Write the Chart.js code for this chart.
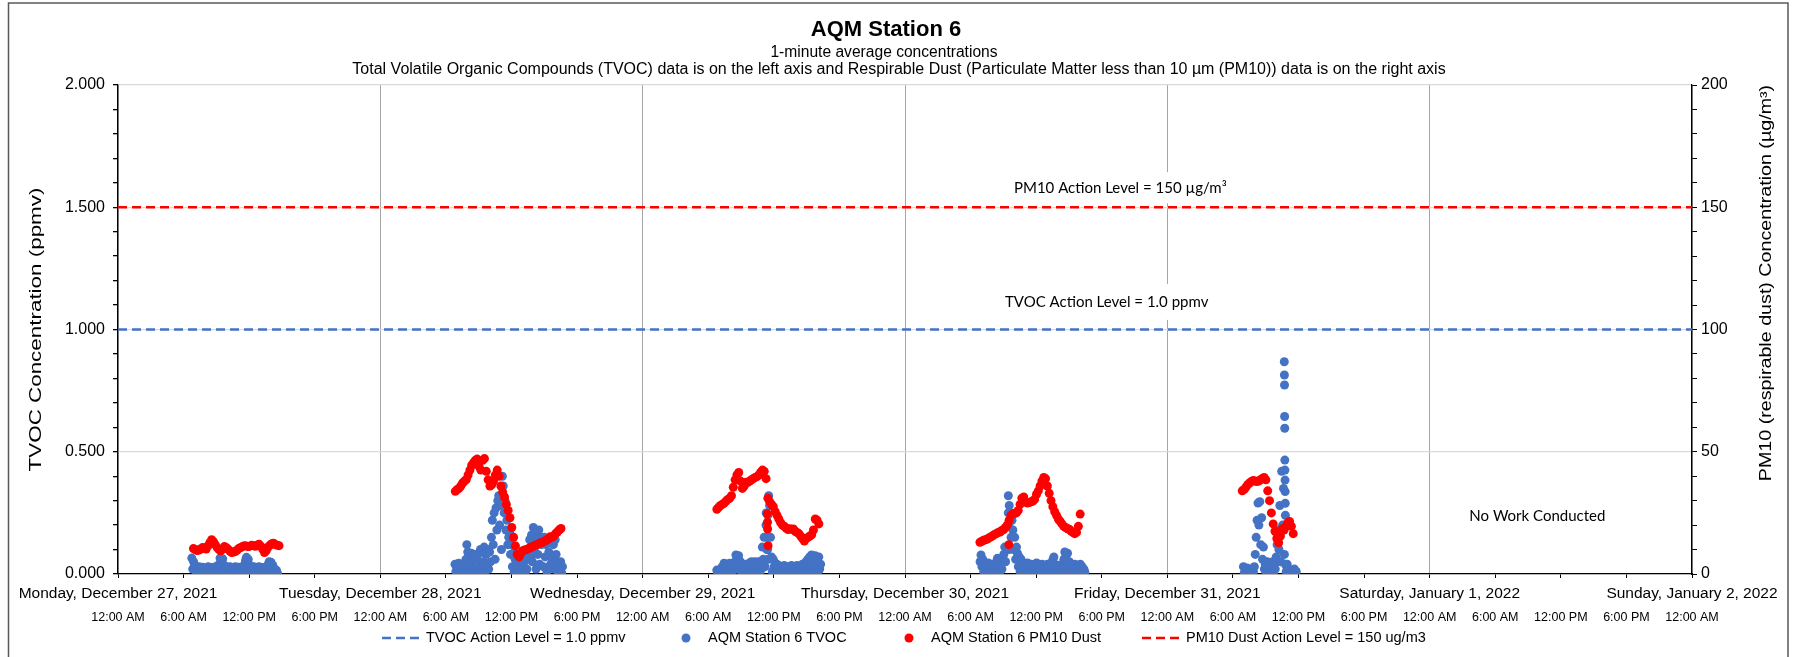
<!DOCTYPE html>
<html>
<head>
<meta charset="utf-8">
<script src="https://cdn.jsdelivr.net/npm/chart.js@4.4.1/dist/chart.umd.min.js"></script>
<style>
html,body{margin:0;padding:0;background:#fff;}
canvas{display:block;}
</style>
</head>
<body>
<canvas id="c" width="1793" height="657"></canvas>
<script>
// ---------------- DATA ----------------
// x values are hours since Monday, December 27, 2021 12:00 AM
const dayLabels = ['Monday, December 27, 2021','Tuesday, December 28, 2021','Wednesday, December 29, 2021','Thursday, December 30, 2021','Friday, December 31, 2021','Saturday, January 1, 2022','Sunday, January 2, 2022'];
const timeLabels = ['12:00 AM','6:00 AM','12:00 PM','6:00 PM'];
const tvocActionLevel = 1.0;   // ppmv
const pm10ActionLevel = 150;   // ug/m3
const TVOC_STEP = 1/12;        // TVOC readings shown every 5 minutes
const PM_STEP = 1/6;           // PM10 readings shown every 10 minutes

const tvocMonStart = 6.75;
const tvocMon = [0.065,0.02,0.05,0.035,0.03,0.005,0.025,0.012,0.03,0.004,0.02,0.01,
 0.028,0.006,0.018,0.003,0.025,0.01,0.03,0.004,0.015,0.008,0.027,0.002,
 0.02,0.01,0.03,0.004,0.025,0.012,0.04,0.065,0.05,0.03,0.062,0.015,
 0.035,0.005,0.028,0.01,0.02,0.003,0.03,0.012,0.025,0.005,0.018,0.008,
 0.03,0.004,0.022,0.012,0.028,0.006,0.02,0.002,0.026,0.01,0.04,0.055,
 0.068,0.03,0.06,0.015,0.035,0.005,0.025,0.01,0.03,0.004,0.02,0.012,
 0.028,0.006,0.03,0.01,0.022,0.003,0.027,0.012,0.018,0.005,0.03,0.008,
 0.04,0.05,0.025,0.048,0.01,0.035,0.005,0.02,0.008,0.015,0.004];
const pm10MonStart = 6.9;
const pm10Mon = [10.4,10.0,9.6,9.8,10.2,10.8,10.6,10.2,11.5,12.8,14.0,13.2,12.0,10.8,10.0,9.5,10.2,11.2,10.8,10.2,9.4,8.8,9.0,9.2,9.8,10.5,10.8,11.2,11.6,11.5,11.2,11.4,11.8,11.6,11.3,11.8,12.2,11.4,10.2,8.8,9.6,11.0,11.8,12.4,12.6,12.0,11.8,11.6];

const tvocTueStart = 30.83;
const tvocTue = [0.04,0.01,0.03,0.005,0.044,0.02,0.035,0.008,0.04,0.015,0.03,0.005,
 0.06,0.12,0.09,0.04,0.07,0.01,0.085,0.03,0.06,0.005,0.08,0.02,
 0.07,0.01,0.085,0.04,0.1,0.02,0.09,0.05,0.11,0.01,0.08,0.03,
 0.1,0.02,0.09,0.05,0.15,0.22,0.12,0.25,0.06,0.27,0.18,0.3,
 0.32,0.2,0.28,0.1,0.4,0.36,0.25,0.3,0.18,0.22,0.12,0.15,
 0.17,0.08,0.12,0.03,0.085,0.01,0.06,0.04,0.08,0.005,0.05,0.02,
 0.07,0.01,0.085,0.03,0.05,0.005,0.08,0.02,0.06,0.1,0.14,0.07,
 0.16,0.05,0.19,0.1,0.17,0.02,0.14,0.08,0.18,0.04,0.15,0.12,
 0.13,0.03,0.15,0.07,0.12,0.01,0.14,0.09,0.13,0.04,0.15,0.06,
 0.12,0.02,0.14,0.08,0.05,0.01,0.045,0.02,0.05,0.005,0.03];
const pm10TueStart = 30.86;
const pm10Tue = [33.8,34.5,35.0,36.0,37.2,38.0,38.6,40.5,42.5,44.5,45.5,46.5,47.0,44.0,42.5,46.5,47.2,42.0,38.5,36.0,36.5,38.0,40.5,42.5,40.0,36.0,33.5,31.5,28.5,26.0,23.0,19.0,15.0,11.5,8.0,7.0,8.5,9.5,9.8,10.0,10.3,10.8,11.0,11.5,11.8,12.0,12.5,12.8,13.0,13.5,13.8,14.3,15.2,15.0,15.5,16.5,17.2,18.0,18.6];

const tvocWedStart = 54.78;
const tvocWed = [0.016,0.005,0.012,0.003,0.02,0.01,0.03,0.005,0.044,0.02,0.04,0.01,
 0.035,0.005,0.044,0.015,0.03,0.008,0.04,0.02,0.05,0.078,0.06,0.03,
 0.075,0.02,0.05,0.01,0.035,0.005,0.03,0.015,0.04,0.003,0.035,0.01,
 0.045,0.015,0.05,0.005,0.04,0.02,0.05,0.01,0.045,0.025,0.05,0.005,
 0.05,0.02,0.11,0.06,0.15,0.03,0.2,0.1,0.24,0.32,0.28,0.15,
 0.07,0.01,0.06,0.03,0.045,0.005,0.04,0.015,0.035,0.005,0.03,0.01,
 0.025,0.005,0.035,0.012,0.02,0.003,0.03,0.01,0.025,0.004,0.035,0.015,
 0.03,0.005,0.02,0.01,0.035,0.003,0.025,0.012,0.03,0.006,0.04,0.015,
 0.035,0.005,0.05,0.02,0.06,0.01,0.07,0.03,0.078,0.04,0.07,0.015,
 0.075,0.03,0.06,0.01,0.07,0.02,0.04];
const pm10WedStart = 54.79;
const pm10Wed = [26.5,27.3,28.0,28.5,29.0,29.8,30.5,31.0,32.0,35.5,38.5,40.5,41.5,38.0,35.0,36.0,37.5,37.5,38.0,38.5,39.0,39.5,39.8,40.5,41.5,42.5,42.0,39.0,31.0,29.5,28.5,27.5,25.5,24.0,22.5,21.0,20.0,19.5,18.8,18.2,18.5,18.3,18.4,17.5,17.0,16.5,15.5,14.5,13.5,14.5,15.0,15.5,16.0,18.0,22.5,22.0,20.5];

const tvocThuStart = 78.87;
const tvocThu = [0.05,0.078,0.03,0.06,0.01,0.04,0.005,0.03,0.012,0.045,0.005,0.035,
 0.015,0.04,0.003,0.03,0.01,0.045,0.02,0.064,0.03,0.055,0.01,0.06,
 0.02,0.064,0.08,0.11,0.05,0.1,0.2,0.32,0.28,0.25,0.15,0.22,
 0.18,0.1,0.15,0.06,0.11,0.085,0.03,0.07,0.01,0.06,0.02,0.045,
 0.04,0.005,0.035,0.015,0.045,0.003,0.03,0.01,0.04,0.006,0.035,0.012,
 0.03,0.004,0.045,0.015,0.035,0.005,0.03,0.01,0.04,0.003,0.035,0.012,
 0.03,0.005,0.04,0.015,0.035,0.006,0.045,0.02,0.06,0.07,0.04,0.01,
 0.035,0.005,0.03,0.012,0.037,0.004,0.03,0.01,0.06,0.09,0.07,0.03,
 0.085,0.04,0.05,0.01,0.04,0.005,0.035,0.015,0.04,0.003,0.03,0.01,
 0.035,0.005,0.04,0.015,0.03,0.004,0.02,0.008];
const pm10ThuStart = 78.86;
const pm10Thu = [13.0,13.4,13.8,14.0,14.3,14.8,15.2,15.6,16.2,16.5,17.0,17.2,17.8,18.2,19.0,20.0,22.0,24.0,24.5,24.8,25.0,26.0,28.5,31.0,31.5,29.5,29.0,29.2,29.5,29.8,30.5,32.5,34.0,36.0,38.0,39.5,39.0,36.0,33.0,30.0,27.5,25.5,24.0,22.5,21.5,20.5,19.5,19.0,18.5,18.3,17.6,17.0,16.5,17.0,19.5,24.5];

const tvocFriStart = 102.96;
const tvocFri = [0.03,0.005,0.02,0.01,0.025,0.003,0.02,0.008,0.015,0.004,0.02,0.01,
 0.03,0.08,0.15,0.22,0.29,0.2,0.296,0.12,0.23,0.06,0.11,0.02,
 0.04,0.005,0.05,0.01,0.03,0.003,0.045,0.015,0.05,0.005,0.04,0.02,
 0.07,0.12,0.18,0.1,0.28,0.05,0.42,0.2,0.35,0.08,0.04,0.01,
 0.04,0.005,0.02,0.01,0.015,0.003,0.01,0.005,0.02,0.002,0.01];
const pm10FriStart = 102.85;
const pm10Fri = [34.0,34.5,35.5,36.5,37.2,37.8,38.2,38.0,37.8,38.0,38.5,39.0,39.5,38.5,34.0,30.0,25.0,20.5,17.5,14.5,12.8,15.5,18.5,18.0,19.5,21.0,21.5,19.5,16.5];

// short-lived readings between the plotted samples: [hour, value]
const tvocSpikes = [[59.3,0.25],[59.33,0.2],[59.4,0.15],[59.43,0.1],[59.47,0.06],[81.45,0.25],[81.5,0.2],[81.55,0.1],
 [106.7,0.868],[106.71,0.814],[106.72,0.773],[106.73,0.644],[106.74,0.596],[106.75,0.466],[106.76,0.425],[106.77,0.384],[106.78,0.337],[106.79,0.289],[106.8,0.24]];
const pm10Spikes = [[59.4,24.6],[59.42,21.2],[59.43,18.4],[59.47,11.6],[81.5,12.0]];

// ---------------- BUILD ----------------
const BLUE = '#4472C4', RED = '#FF0000';
const FONT = "'Liberation Sans', Arial, sans-serif";
const LFONT = "Lato, 'Open Sans', sans-serif";
function series(start, vals, step){ return vals.map((v,i)=>({x:start + i*step, y:v})); }
function spikes(arr){ return arr.map(p=>({x:p[0], y:p[1]})); }
const tvocPts = [].concat(series(tvocMonStart,tvocMon,TVOC_STEP),series(tvocTueStart,tvocTue,TVOC_STEP),series(tvocWedStart,tvocWed,TVOC_STEP),series(tvocThuStart,tvocThu,TVOC_STEP),series(tvocFriStart,tvocFri,TVOC_STEP),spikes(tvocSpikes));
const pm10Pts = [].concat(series(pm10MonStart,pm10Mon,PM_STEP),series(pm10TueStart,pm10Tue,PM_STEP),series(pm10WedStart,pm10Wed,PM_STEP),series(pm10ThuStart,pm10Thu,PM_STEP),series(pm10FriStart,pm10Fri,PM_STEP),spikes(pm10Spikes));
const xMax = (dayLabels.length-1)*24;
const isMult = (v,m)=>Math.abs(v/m - Math.round(v/m)) < 1e-6;

function stretchedText(c, text, x, y, rot, sx){
  c.save(); c.translate(x,y); c.rotate(rot); c.scale(sx,1); c.fillText(text,0,0); c.restore();
}

const decor = {
  id:'decor',
  beforeDraw(chart){
    const c = chart.ctx;
    c.save(); c.fillStyle='#fff'; c.fillRect(0,0,chart.width,chart.height); c.restore();
  },
  afterDatasetsDraw(chart){
    const c = chart.ctx, sx = chart.scales.x, sy = chart.scales.y, sy2 = chart.scales.y2;
    c.save();
    const labels = [
      {t:'PM10 Action Level = 150 \u00B5g/m\u00B3', x:sx.getPixelForValue(91.7), y:sy2.getPixelForValue(158), h:31},
      {t:'TVOC Action Level = 1.0 ppmv', x:sx.getPixelForValue(90.45), y:sy.getPixelForValue(1.113), h:36}
    ];
    c.font = '15px ' + LFONT;
    c.textAlign='center'; c.textBaseline='middle';
    labels.forEach(l=>{
      const w = c.measureText(l.t).width + 12;
      c.fillStyle='#fff'; c.fillRect(l.x-w/2, l.y-l.h/2, w, l.h);
      c.fillStyle='#000'; c.fillText(l.t, l.x, l.y);
    });
    c.fillText('No Work Conducted', sx.getPixelForValue(129.85), sy.getPixelForValue(0.237));
    c.restore();
  },
  afterDraw(chart){
    const c = chart.ctx, ca = chart.chartArea;
    c.save();
    c.strokeStyle='#595959'; c.lineWidth=1.5;
    c.beginPath(); c.moveTo(8.5,660); c.lineTo(8.5,3); c.lineTo(1788,3); c.lineTo(1788,660); c.stroke();
    c.fillStyle='#000'; c.textAlign='center'; c.textBaseline='middle';
    c.font='bold 22px '+FONT; c.fillText('AQM Station 6', 886, 29.5);
    c.font='15.6px '+FONT; c.fillText('1-minute average concentrations', 884, 52.5);
    c.font='16px '+FONT;
    c.fillText('Total Volatile Organic Compounds (TVOC) data is on the left axis and Respirable Dust (Particulate Matter less than 10 \u00B5m (PM10)) data is on the right axis', 899, 69.5);
    const cy = (ca.top+ca.bottom)/2;
    c.font='16px '+FONT;
    stretchedText(c, 'TVOC Concentration (ppmv)', 37, cy, -Math.PI/2, 1.4);
    stretchedText(c, 'PM10 (respirable dust) Concentration (\u00B5g/m\u00B3)', 1767, 283, -Math.PI/2, 1.23);
    const ly = 638;
    c.font='14.5px '+FONT; c.textAlign='left';
    const items = [
      {ds:0, kind:'dash', x0:382, x1:422, tx:426},
      {ds:1, kind:'dot', x0:686, tx:708},
      {ds:2, kind:'dot', x0:909, tx:931},
      {ds:3, kind:'dash', x0:1142, x1:1182, tx:1186}
    ];
    items.forEach(it=>{
      const d = chart.data.datasets[it.ds];
      if(it.kind==='dash'){
        c.save(); c.strokeStyle=d.borderColor; c.lineWidth=d.borderWidth; c.setLineDash(d.borderDash);
        c.beginPath(); c.moveTo(it.x0, ly); c.lineTo(it.x1, ly); c.stroke(); c.restore();
      } else {
        c.fillStyle=d.backgroundColor; c.beginPath(); c.arc(it.x0, ly, 4.5, 0, Math.PI*2); c.fill();
      }
      c.fillStyle='#000'; c.fillText(d.label, it.tx, ly);
    });
    c.restore();
  }
};

new Chart(document.getElementById('c'), {
  data:{
    datasets:[
      {type:'line', label:'TVOC Action Level = 1.0 ppmv', data:[{x:0,y:tvocActionLevel},{x:xMax,y:tvocActionLevel}], yAxisID:'y', borderColor:BLUE, borderWidth:2.5, borderDash:[9,5], pointRadius:0, fill:false, order:0},
      {type:'scatter', label:'AQM Station 6 TVOC', data:tvocPts, yAxisID:'y', backgroundColor:BLUE, borderWidth:0, pointRadius:4.5, order:2},
      {type:'scatter', label:'AQM Station 6 PM10 Dust', data:pm10Pts, yAxisID:'y2', backgroundColor:RED, borderWidth:0, pointRadius:4.5, order:1},
      {type:'line', label:'PM10 Dust Action Level = 150 ug/m3', data:[{x:0,y:pm10ActionLevel},{x:xMax,y:pm10ActionLevel}], yAxisID:'y2', borderColor:RED, borderWidth:2.5, borderDash:[9,5], pointRadius:0, fill:false, order:0}
    ]
  },
  options:{
    responsive:false, animation:false, events:[], devicePixelRatio:1,
    layout:{padding:{top:85,left:0,right:0,bottom:33}},
    plugins:{legend:{display:false}, tooltip:{enabled:false}, title:{display:false}},
    scales:{
      x:{type:'linear', position:'bottom', min:0, max:xMax, weight:1,
        ticks:{stepSize:6, autoSkip:false, maxRotation:0, minRotation:0, padding:6, color:'#000', font:{family:FONT,size:15.5},
          callback:v=>isMult(v,24)?dayLabels[Math.round(v/24)]:''},
        grid:{color:ctx=>(ctx.tick && isMult(ctx.tick.value,24))?'#A6A6A6':'rgba(0,0,0,0)', tickColor:'#000', tickLength:4, lineWidth:1},
        border:{color:'#000', width:1.3},
        afterFit:s=>{s.height=28; s.paddingLeft=0; s.paddingRight=0;}
      },
      x2:{type:'linear', position:'bottom', min:0, max:xMax, weight:2,
        ticks:{stepSize:6, autoSkip:false, maxRotation:0, minRotation:0, padding:0, color:'#000', font:{family:FONT,size:12.5},
          callback:v=>timeLabels[Math.round(v/6)%4]},
        grid:{display:false}, border:{display:false},
        afterFit:s=>{s.height=22; s.paddingLeft=0; s.paddingRight=0;}
      },
      y:{type:'linear', position:'left', min:0, max:2,
        ticks:{stepSize:0.1, autoSkip:false, padding:8, color:'#000', font:{family:FONT,size:16},
          callback:v=>isMult(v,0.5)?Number(v).toFixed(3):''},
        grid:{color:ctx=>(ctx.tick && isMult(ctx.tick.value,0.5))?'#D9D9D9':'rgba(0,0,0,0)', tickColor:'#000', tickLength:5, lineWidth:1.3},
        border:{color:'#000', width:1.3},
        afterFit:s=>{s.width=118; s.paddingTop=0; s.paddingBottom=0;}
      },
      y2:{type:'linear', position:'right', min:0, max:200,
        ticks:{stepSize:10, autoSkip:false, padding:4, color:'#000', font:{family:FONT,size:16},
          callback:v=>isMult(v,50)?String(v):''},
        grid:{drawOnChartArea:false, tickColor:'#000', tickLength:5},
        border:{color:'#000', width:1.3},
        afterFit:s=>{s.width=101; s.paddingTop=0; s.paddingBottom=0;}
      }
    }
  },
  plugins:[decor]
});
</script>
</body>
</html>
